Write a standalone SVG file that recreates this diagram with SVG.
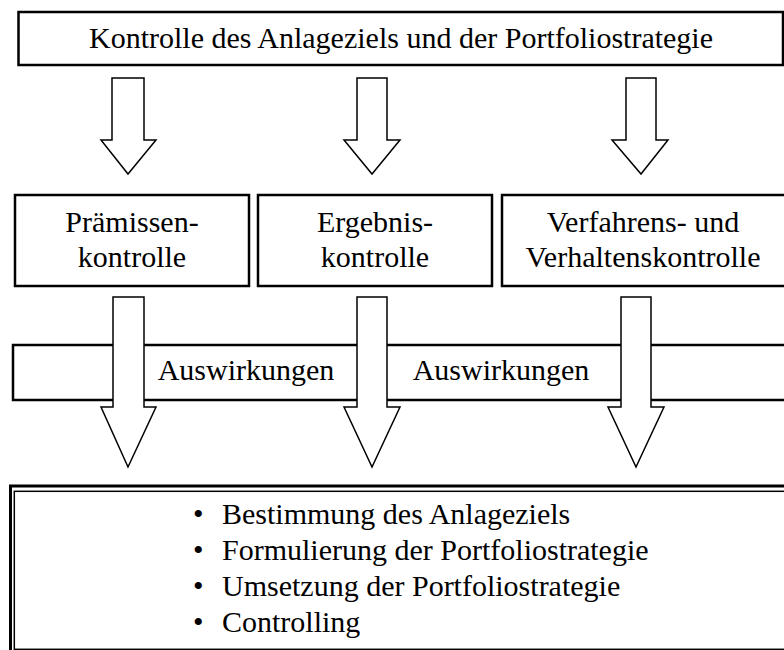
<svg xmlns="http://www.w3.org/2000/svg" width="784" height="650" viewBox="0 0 784 650">
<style>
text{font-family:"Liberation Serif","Times New Roman",serif;font-size:30px;fill:#000}
.c{text-anchor:middle}
.box{fill:#fff;stroke:#000;stroke-width:2.5}
.arr{fill:#fff;stroke:#000;stroke-width:1.5;stroke-linejoin:miter}
</style>
<rect width="784" height="650" fill="#fff"/>
<g id="top">
<rect class="box" x="18.5" y="12" width="764.5" height="53" stroke-width="2"/>
<text class="c" x="401" y="48">Kontrolle des Anlageziels und der Portfoliostrategie</text>
</g>
<g id="connectors-top">
<polygon class="arr" points="112,78 144,78 144,140 156,140 128,174 101,140 112,140"/>
<polygon class="arr" points="357,78 387,78 387,140 400,140 372,174 344,140 357,140"/>
<polygon class="arr" points="626,78 656,78 656,140 668,140 641,174 612,140 626,140"/>
</g>
<g id="praemissen">
<rect class="box" x="15" y="195" width="234" height="91"/>
<text class="c" x="132" y="232">Prämissen-</text>
<text class="c" x="132" y="267">kontrolle</text>
</g>
<g id="ergebnis">
<rect class="box" x="258" y="195" width="234" height="91"/>
<text class="c" x="375" y="232">Ergebnis-</text>
<text class="c" x="375" y="267">kontrolle</text>
</g>
<g id="verfahren">
<rect class="box" x="502" y="195" width="284" height="91"/>
<text class="c" x="643" y="232">Verfahrens- und</text>
<text class="c" x="643" y="267">Verhaltenskontrolle</text>
</g>
<g id="auswirkungen">
<rect class="box" x="13" y="345" width="775" height="55"/>
<text class="c" x="246" y="380">Auswirkungen</text>
<text class="c" x="501" y="380">Auswirkungen</text>
</g>
<g id="connectors-bottom">
<polygon class="arr" points="113,297 144,297 144,407 156,407 128,467 101,407 113,407"/>
<polygon class="arr" points="357,297 387,297 387,407 400,407 372,467 344,407 357,407"/>
<polygon class="arr" points="621,297 651,297 651,407 664,407 636,467 608,407 621,407"/>
</g>
<g id="ziele">
<rect x="10.5" y="486" width="790" height="200" fill="#fff" stroke="#000" stroke-width="3"/>
<rect x="14.3" y="491.3" width="790" height="158" fill="none" stroke="#000" stroke-width="1.5"/>
<text x="193" y="524">•</text><text x="222" y="524">Bestimmung des Anlageziels</text>
<text x="193" y="560">•</text><text x="222" y="560">Formulierung der Portfoliostrategie</text>
<text x="193" y="596">•</text><text x="222" y="596">Umsetzung der Portfoliostrategie</text>
<text x="193" y="632">•</text><text x="222" y="632">Controlling</text>
</g>
</svg>
